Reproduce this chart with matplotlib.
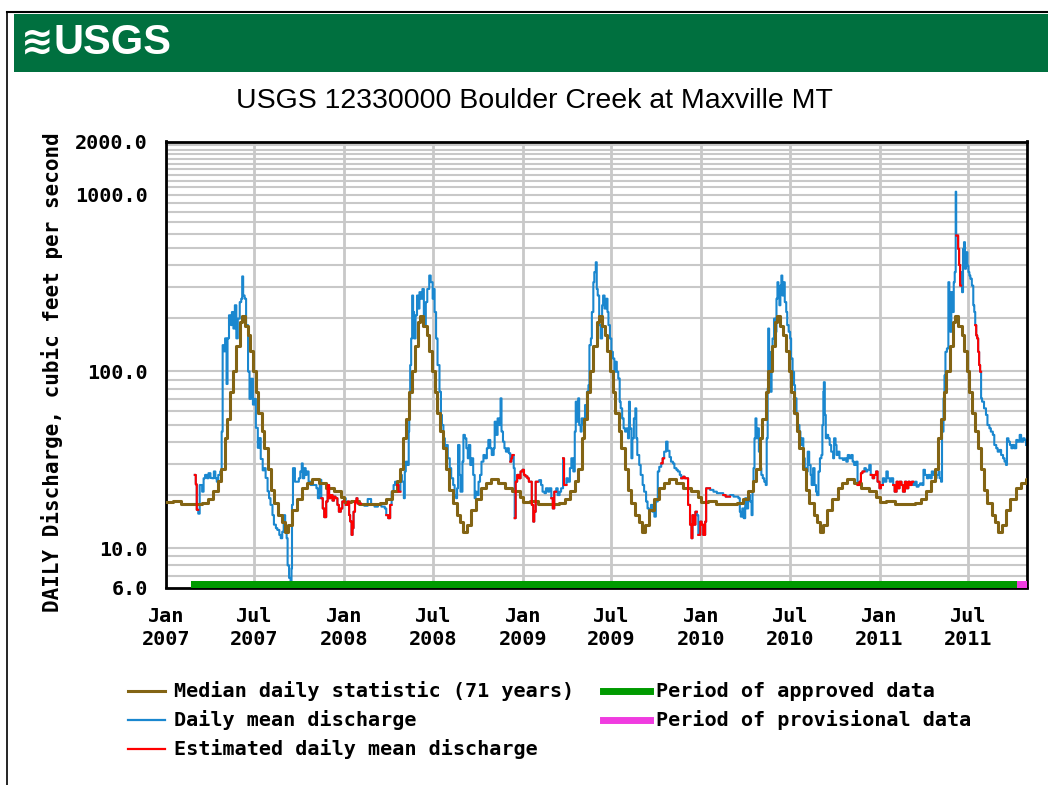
import matplotlib
matplotlib.use("Agg")
import matplotlib.pyplot as plt
import matplotlib.dates as mdates
import matplotlib.transforms as mtransforms
from matplotlib.lines import Line2D
from matplotlib.patches import Rectangle
import numpy as np
import pandas as pd

TITLE = "USGS 12330000 Boulder Creek at Maxville MT"
YLABEL = "DAILY Discharge, cubic feet per second"
LEGEND_LABELS = ["Median daily statistic (71 years)", "Daily mean discharge",
                 "Estimated daily mean discharge", "Period of approved data",
                 "Period of provisional data"]

# ---- daily mean discharge (cfs): (month-day, value) ----
q2007 = [("03-01", 26), ("03-03", 23), ("03-05", 16.5), ("03-08", 15.7), ("03-11", 22.8), ("03-16", 20.9),
         ("03-19", 24.9), ("03-22", 26), ("03-26", 24.9), ("03-29", 26.6), ("04-02", 25), ("04-05", 24.9),
         ("04-09", 27.2), ("04-12", 24.9), ("04-15", 23.8), ("04-18", 26), ("04-22", 27.2), ("04-25", 45.7),
         ("04-27", 141), ("04-30", 130), ("05-02", 154), ("05-05", 85), ("05-07", 154), ("05-10", 208),
         ("05-14", 183), ("05-16", 217), ("05-19", 175), ("05-22", 237), ("05-25", 154), ("05-28", 199),
         ("06-01", 247), ("06-04", 258), ("06-06", 345), ("06-08", 269), ("06-11", 258), ("06-14", 183),
         ("06-18", 100), ("06-21", 70), ("06-24", 91), ("06-28", 65), ("07-01", 70), ("07-04", 48),
         ("07-08", 37), ("07-11", 42), ("07-14", 32), ("07-18", 27.6), ("07-21", 28.4), ("07-24", 25),
         ("07-28", 21), ("07-31", 19.2), ("08-03", 17.6), ("08-07", 15.4), ("08-10", 13.6), ("08-14", 13),
         ("08-17", 12.7), ("08-21", 11.9), ("08-24", 11.4), ("08-27", 12.4), ("08-30", 15.4), ("09-02", 12.4),
         ("09-05", 11.4), ("09-07", 8.0), ("09-10", 6.8), ("09-13", 6.5), ("09-15", 7.7), ("09-16", 17.6),
         ("09-18", 28.4), ("09-22", 23.8), ("09-26", 23.8), ("09-30", 24.9), ("10-03", 27.2), ("10-06", 30.2),
         ("10-08", 24.9), ("10-11", 28.4), ("10-14", 26), ("10-16", 27.2), ("10-20", 23.8), ("10-24", 22.8),
         ("10-29", 22.8), ("11-05", 21.85), ("11-08", 19.2), ("11-12", 24.4), ("11-15", 19.2), ("11-18", 16.8),
         ("11-21", 15), ("11-25", 18.4), ("11-28", 22.8), ("12-01", 19.2), ("12-04", 20), ("12-08", 18.6),
         ("12-11", 19.6), ("12-14", 19.2), ("12-18", 17.6), ("12-21", 16.1), ("12-25", 16.8), ("12-28", 18.4)]

q2008 = [("01-01", 19.2), ("01-04", 17.6), ("01-08", 18.4), ("01-11", 15.4), ("01-13", 14.2), ("01-16", 11.9),
         ("01-18", 13), ("01-20", 16.1), ("01-23", 18.4), ("01-26", 19.2), ("01-28", 17.9), ("02-04", 17.6),
         ("02-11", 17.4), ("02-18", 19), ("02-25", 17.6), ("03-03", 17.2), ("03-10", 17.6), ("03-17", 17.2),
         ("03-24", 16.8), ("03-27", 15.4), ("03-31", 14.8), ("04-04", 17.6), ("04-07", 20.9), ("04-11", 22.8),
         ("04-14", 23.8), ("04-18", 22.8), ("04-21", 20.9), ("04-25", 26), ("04-28", 23.8), ("05-02", 19.2),
         ("05-04", 27.2), ("05-06", 30.9), ("05-09", 29.6), ("05-12", 45.7), ("05-13", 70.5), ("05-15", 108.7),
         ("05-17", 153.8), ("05-19", 269), ("05-21", 217), ("05-23", 153.8), ("05-26", 208), ("05-29", 269),
         ("05-31", 227), ("06-03", 281), ("06-06", 258), ("06-09", 293), ("06-12", 183), ("06-16", 247),
         ("06-19", 293), ("06-23", 349), ("06-26", 320), ("06-30", 258), ("07-02", 293), ("07-04", 217),
         ("07-07", 153.8), ("07-10", 108.7), ("07-14", 76.8), ("07-17", 56.8), ("07-19", 49.8), ("07-22", 41.9),
         ("07-25", 36.8), ("07-28", 38.4), ("07-31", 32.3), ("08-04", 28.4), ("08-07", 24.9), ("08-11", 22.8),
         ("08-14", 20), ("08-17", 19.2), ("08-19", 21.85), ("08-21", 38.4), ("08-24", 26), ("08-26", 20.9),
         ("08-30", 30.9), ("09-01", 43.8), ("09-04", 41.9), ("09-07", 36.8), ("09-10", 32.3), ("09-12", 38.4),
         ("09-15", 29.6), ("09-18", 32.3), ("09-21", 26), ("09-24", 19.2), ("09-26", 20.9), ("09-29", 20),
         ("10-02", 23.8), ("10-05", 26), ("10-08", 30.9), ("10-12", 33.7), ("10-15", 32.3), ("10-19", 36.8),
         ("10-22", 41), ("10-26", 36.8), ("10-29", 33.7), ("11-02", 36.8), ("11-04", 52), ("11-07", 43.8),
         ("11-10", 54.3), ("11-13", 49.8), ("11-16", 70.5), ("11-18", 45.7), ("11-21", 40.1), ("11-24", 36.8),
         ("11-27", 35.2), ("11-30", 36.8), ("12-03", 34.5), ("12-06", 30.9), ("12-08", 32.3), ("12-10", 33.7),
         ("12-13", 28.4), ("12-15", 14.8), ("12-17", 23.8), ("12-20", 26), ("12-24", 24.9), ("12-27", 27.2),
         ("12-31", 27.8)]

q2009 = [("01-03", 26), ("01-06", 25.5), ("01-10", 24.9), ("01-13", 23.8), ("01-17", 23.8), ("01-19", 17.6),
         ("01-22", 14.15), ("01-24", 16.1), ("01-27", 23.8), ("01-31", 23.8), ("02-03", 24.3), ("02-07", 22.8),
         ("02-10", 20.9), ("02-14", 20.5), ("02-17", 21.85), ("02-21", 20.9), ("02-24", 21.85), ("02-28", 19.2),
         ("03-03", 16.8), ("03-06", 20.9), ("03-10", 21.85), ("03-13", 20), ("03-17", 20.9), ("03-20", 21.85),
         ("03-24", 32.3), ("03-26", 22.8), ("03-31", 24.9), ("04-03", 23.8), ("04-07", 28.4), ("04-10", 32.3),
         ("04-14", 27.2), ("04-17", 45.7), ("04-19", 67.5), ("04-22", 52), ("04-24", 70.5), ("04-26", 49.8),
         ("04-29", 45.7), ("05-01", 54.3), ("05-05", 49.8), ("05-08", 64.6), ("05-12", 76.8), ("05-15", 83.7),
         ("05-17", 141), ("05-20", 153.8), ("05-22", 217), ("05-25", 320), ("05-27", 365), ("05-30", 415),
         ("06-01", 293), ("06-03", 269), ("06-06", 183), ("06-09", 153.8), ("06-12", 237), ("06-14", 269),
         ("06-17", 227), ("06-20", 258), ("06-23", 217), ("06-25", 183), ("06-28", 153.8), ("07-01", 129.2),
         ("07-04", 118.5), ("07-07", 99.6), ("07-09", 113.5), ("07-12", 99.6), ("07-15", 91.3), ("07-18", 67.5),
         ("07-20", 61.9), ("07-23", 54.3), ("07-26", 47.7), ("07-29", 45.7), ("08-01", 47.7), ("08-04", 41.9),
         ("08-06", 67.5), ("08-08", 47.7), ("08-11", 32.3), ("08-13", 41.9), ("08-16", 54.3), ("08-19", 61.9),
         ("08-21", 41.9), ("08-23", 33.7), ("08-27", 29.6), ("08-30", 26), ("09-03", 22.8), ("09-06", 20.9),
         ("09-10", 18.4), ("09-13", 16.8), ("09-16", 16.5), ("09-20", 17.6), ("09-23", 16.1), ("09-27", 15.1),
         ("09-30", 18.4), ("10-04", 27.2), ("10-07", 28.9), ("10-11", 30.2), ("10-14", 32.3), ("10-17", 35.2),
         ("10-21", 40.1), ("10-24", 35.6), ("10-28", 32.8), ("10-31", 30.9), ("11-04", 30.2), ("11-07", 28.4),
         ("11-11", 27.8), ("11-14", 27.2), ("11-18", 26), ("11-21", 24.9), ("11-25", 25.4), ("11-28", 24.9),
         ("12-02", 24.9), ("12-05", 17.6), ("12-09", 13.6), ("12-12", 11.4), ("12-14", 15.4), ("12-16", 13.6),
         ("12-20", 16.1), ("12-23", 15.4), ("12-26", 11.9), ("12-30", 14.15)]

q2010 = [("01-02", 13.6), ("01-05", 11.9), ("01-09", 14.15), ("01-11", 21.85), ("01-14", 21.85), ("01-19", 21.4),
         ("01-26", 20.9), ("02-02", 20.5), ("02-09", 20.5), ("02-15", 20), ("02-20", 19.6), ("02-24", 19.6),
         ("03-01", 20), ("03-08", 19.6), ("03-15", 19.6), ("03-18", 19.2), ("03-21", 16.1), ("03-23", 15.1),
         ("03-26", 16.8), ("03-29", 14.8), ("04-01", 19.2), ("04-04", 16.8), ("04-07", 20), ("04-11", 18.4),
         ("04-14", 15.4), ("04-16", 20.9), ("04-18", 28.4), ("04-20", 41.9), ("04-22", 54.3), ("04-24", 41.9),
         ("04-26", 47.7), ("04-29", 35.2), ("05-02", 28.4), ("05-04", 26), ("05-07", 24.9), ("05-10", 23.8),
         ("05-13", 22.8), ("05-15", 41.9), ("05-17", 80.2), ("05-18", 175), ("05-20", 129.2), ("05-22", 99.6),
         ("05-23", 76.8), ("05-25", 129.2), ("05-27", 153.8), ("05-30", 199), ("06-02", 167.7), ("06-04", 258),
         ("06-06", 320), ("06-08", 281), ("06-10", 237), ("06-12", 306), ("06-14", 349), ("06-16", 269),
         ("06-18", 320), ("06-21", 247), ("06-24", 217), ("06-26", 183), ("06-29", 167.7), ("07-02", 153.8),
         ("07-04", 118.5), ("07-07", 99.6), ("07-10", 83.7), ("07-12", 70.5), ("07-15", 56.8), ("07-18", 49.8),
         ("07-21", 45.7), ("07-23", 38.4), ("07-26", 41.9), ("07-29", 32.3), ("08-01", 28.4), ("08-04", 27.2),
         ("08-07", 35.2), ("08-10", 29.6), ("08-13", 26), ("08-15", 22.8), ("08-18", 28.4), ("08-21", 22.8),
         ("08-24", 20.9), ("08-26", 20), ("08-29", 27.2), ("09-01", 32.3), ("09-04", 33.7), ("09-06", 49.8),
         ("09-08", 76.8), ("09-09", 87), ("09-11", 56.8), ("09-13", 41.9), ("09-15", 43.8), ("09-18", 41.9),
         ("09-21", 38.4), ("09-24", 35.2), ("09-28", 32.3), ("09-30", 41.9), ("10-03", 38.4), ("10-05", 33.7),
         ("10-08", 35.2), ("10-11", 32.3), ("10-15", 32.3), ("10-18", 31.6), ("10-21", 32.3), ("10-25", 30.9),
         ("10-28", 33.7), ("10-31", 32.3), ("11-04", 33.7), ("11-07", 30.9), ("11-10", 29.6), ("11-14", 30.9),
         ("11-17", 22.8), ("11-21", 23.8), ("11-24", 26.6), ("11-27", 27.2), ("12-01", 28.4), ("12-04", 27.2),
         ("12-07", 27.8), ("12-11", 29.6), ("12-14", 26), ("12-18", 24.9), ("12-21", 26), ("12-25", 27.2),
         ("12-28", 23.8)]

q2011 = [("01-01", 21.85), ("01-04", 22.8), ("01-08", 24.9), ("01-11", 23.8), ("01-15", 27.2), ("01-18", 24.9),
         ("01-22", 23.8), ("01-25", 24.9), ("01-29", 22.8), ("02-01", 20.9), ("02-05", 23.8), ("02-08", 21.85),
         ("02-11", 23.8), ("02-15", 22.8), ("02-18", 20.9), ("02-22", 23.8), ("02-25", 21.85), ("03-01", 23.8),
         ("03-04", 22.8), ("03-08", 23.8), ("03-11", 22.8), ("03-15", 23.8), ("03-18", 22.3), ("03-22", 22.8),
         ("03-25", 23.3), ("03-29", 22.8), ("04-01", 27.8), ("04-04", 26), ("04-08", 24.9), ("04-11", 26),
         ("04-15", 24.9), ("04-18", 27.2), ("04-21", 26), ("04-25", 24.9), ("04-28", 26), ("05-02", 27.2),
         ("05-04", 24.9), ("05-07", 23.8), ("05-09", 45.7), ("05-12", 70.5), ("05-14", 95), ("05-16", 129.2),
         ("05-19", 135), ("05-22", 320), ("05-24", 281), ("05-26", 167.7), ("05-28", 281), ("05-30", 217),
         ("06-02", 320), ("06-04", 365), ("06-06", 1040), ("06-07", 588), ("06-08", 588), ("06-11", 494),
         ("06-13", 400), ("06-15", 306), ("06-17", 365), ("06-19", 281), ("06-21", 494), ("06-23", 539),
         ("06-25", 381), ("06-27", 473), ("06-30", 397), ("07-02", 365), ("07-04", 349), ("07-06", 335),
         ("07-09", 306), ("07-12", 237), ("07-14", 217), ("07-16", 183), ("07-18", 160), ("07-20", 153.8),
         ("07-22", 129.2), ("07-24", 108.7), ("07-26", 99.6), ("07-28", 70.5), ("07-30", 67.5), ("08-03", 61.9),
         ("08-07", 56.8), ("08-10", 49.8), ("08-14", 47.7), ("08-17", 45.7), ("08-21", 43.8), ("08-24", 38.4),
         ("08-28", 36.8), ("08-31", 35.2), ("09-04", 36), ("09-07", 33.7), ("09-11", 32.3), ("09-14", 30.9),
         ("09-17", 29.6), ("09-19", 41.9), ("09-22", 40.1), ("09-25", 38.4), ("09-28", 36.8), ("10-01", 38.4),
         ("10-04", 36.8), ("10-08", 41), ("10-11", 40.1), ("10-15", 43.8), ("10-18", 40.1), ("10-22", 41.9),
         ("10-25", 41), ("10-28", 38.4)]

discharge_by_year = {2007: q2007, 2008: q2008, 2009: q2009, 2010: q2010, 2011: q2011}

# ---- periods of estimated daily values ----
est_start = ["2007-03-01", "2007-11-14", "2008-01-03", "2008-03-25", "2008-04-17", "2008-12-05",
             "2008-12-14", "2009-02-27", "2009-03-23", "2009-10-10", "2009-11-20", "2009-12-25",
             "2010-02-14", "2010-11-16", "2010-12-13", "2011-01-28", "2011-02-14", "2011-03-03",
             "2011-06-07", "2011-07-15"]
est_end = ["2007-03-04", "2007-12-26", "2008-01-27", "2008-04-03", "2008-04-19", "2008-12-09",
           "2009-01-25", "2009-03-04", "2009-03-25", "2009-10-12", "2009-12-17", "2010-01-12",
           "2010-02-21", "2010-11-25", "2011-01-02", "2011-02-09", "2011-02-26", "2011-03-05",
           "2011-06-13", "2011-07-25"]

# ---- median daily statistic (71 years), one calendar year ----
median_md = ["01-01", "01-15", "02-01", "02-15", "03-01", "03-15", "03-27", "04-07", "04-17", "04-24",
             "05-01", "05-06", "05-13", "05-18", "05-25", "06-01", "06-05", "06-11", "06-18", "06-23",
             "06-29", "07-04", "07-09", "07-16", "07-21", "07-28", "08-03", "08-10", "08-19", "08-26",
             "09-01", "09-08", "09-16", "09-26", "10-07", "10-17", "10-27", "11-10", "11-25", "12-10", "12-25"]
median_q = [18.3, 18.5, 17.8, 17.8, 17.8, 18.0, 19, 21, 24, 28,
            42, 54, 77, 100, 140, 190, 205, 182, 160, 130,
            100, 77, 58, 46, 37, 28, 21.5, 18, 15.5, 14,
            12.3, 13.5, 16.5, 19, 22, 23.5, 24.5, 23.5, 22, 21, 19.5]
median_years = [2007, 2008, 2009, 2010, 2011]

approved_period = ("2007-02-21", "2011-10-10")
provisional_period = ("2011-10-10", "2011-10-30")
x_range = ("2007-01-01", "2011-10-30")

y_ticks = [6, 10, 100, 1000, 2000]
y_tick_labels = ["6.0", "10.0", "100.0", "1000.0", "2000.0"]
x_tick_dates = ["2007-01-01", "2007-07-01", "2008-01-01", "2008-07-01", "2009-01-01", "2009-07-01",
                "2010-01-01", "2010-07-01", "2011-01-01", "2011-07-01"]
x_tick_labels = ["Jan\n2007", "Jul\n2007", "Jan\n2008", "Jul\n2008", "Jan\n2009", "Jul\n2009",
                 "Jan\n2010", "Jul\n2010", "Jan\n2011", "Jul\n2011"]

# ---- colours / styles ----
C_BLUE = "#1a87cf"
C_BROWN = "#836414"
C_RED = "#ff0000"
C_GREEN = "#009a00"
C_PINK = "#f03ce0"
C_GRID = "#c8c8c8"
C_BANNER = "#00703f"
MONO = ["DejaVu Sans Mono"]
SANS = ["Liberation Sans", "DejaVu Sans"]

# ---- build series ----
dates, vals = [], []
for yr, pairs in discharge_by_year.items():
    for md, v in pairs:
        dates.append(f"{yr}-{md}")
        vals.append(v)
dates = pd.to_datetime(dates).to_numpy()
vals = np.array(vals, dtype=float)

est = np.zeros(len(dates), dtype=bool)
for s, e in zip(est_start, est_end):
    est |= (dates >= np.datetime64(s)) & (dates <= np.datetime64(e))
est_ext = est.copy()
est_ext[1:] |= est[:-1]
red_vals = np.where(est_ext, vals, np.nan)

med_dates, med_vals = [], []
for yr in median_years:
    for md, v in zip(median_md, median_q):
        med_dates.append(f"{yr}-{md}")
        med_vals.append(v)
med_dates = pd.to_datetime(med_dates).to_numpy()
med_vals = np.array(med_vals)

# ---- figure ----
W, H = 1048, 785
fig = plt.figure(figsize=(W / 100, H / 100), dpi=100)
fig.patch.set_facecolor("white")

def fx(px):
    return px / W

def fy(py):
    return 1 - py / H

# frame lines and banner
fig.add_artist(Line2D([fx(6.5), fx(6.5)], [fy(12), fy(785)], color="black", lw=1.2))
fig.add_artist(Line2D([fx(6.5), fx(1048)], [fy(12), fy(12)], color="black", lw=1.5))
fig.add_artist(Rectangle((fx(14), fy(72)), fx(1048 - 14), 58 / H, color=C_BANNER, lw=0))
fig.text(fx(21), fy(43), "\u224b", color="white", fontsize=28, fontweight="bold",
         family=["DejaVu Sans"], va="center", ha="left")
fig.text(fx(53), fy(43), "USGS", color="white", fontsize=30, fontweight="bold",
         family=SANS, va="center", ha="left")

fig.text(fx(534), fy(101), TITLE, fontsize=20.5, family=SANS, ha="center", va="center",
         color="black", fontweight="medium")

ax = fig.add_axes([fx(166), fy(587.5), fx(1027 - 166), (587.5 - 141.5) / H])
ax.set_yscale("log")
x0, x1 = pd.to_datetime(x_range[0]), pd.to_datetime(x_range[1])
ax.set_xlim(x0, x1)
ax.set_ylim(6, 2000)

grid_vals = ([7, 8, 9, 10] + list(range(20, 101, 10)) + list(range(200, 1001, 100))
             + list(range(1100, 2000, 100)))
for g in grid_vals:
    ax.axhline(g, color=C_GRID, lw=1.5, zorder=0)
for d in x_tick_dates:
    ax.axvline(pd.to_datetime(d), color=C_GRID, lw=2, zorder=0)

ax.plot(dates, vals, color=C_BLUE, lw=1.5, drawstyle="steps-post", zorder=2)
ax.plot(med_dates, med_vals, color=C_BROWN, lw=2.2, drawstyle="steps-post", zorder=3)
ax.plot(dates, red_vals, color=C_RED, lw=1.5, drawstyle="steps-post", zorder=4)

trans = mtransforms.blended_transform_factory(ax.transData, ax.transAxes)
bar_h = 7 / 446
a0, a1 = mdates.date2num(pd.to_datetime(approved_period[0])), mdates.date2num(pd.to_datetime(approved_period[1]))
p0, p1 = mdates.date2num(pd.to_datetime(provisional_period[0])), mdates.date2num(pd.to_datetime(provisional_period[1]))
ax.add_patch(Rectangle((a0, 0), a1 - a0, bar_h, transform=trans, color=C_GREEN, lw=0, zorder=5))
ax.add_patch(Rectangle((p0, 0), p1 - p0, bar_h, transform=trans, color=C_PINK, lw=0, zorder=5))

ax.set_yticks(y_ticks)
ax.set_yticklabels(y_tick_labels)
ax.yaxis.set_minor_locator(matplotlib.ticker.NullLocator())
ax.set_xticks([pd.to_datetime(d) for d in x_tick_dates])
ax.set_xticklabels(x_tick_labels, linespacing=1.25)
ax.tick_params(axis="both", length=0)
ax.tick_params(axis="y", pad=13)
ax.tick_params(axis="x", pad=14)
for lab in ax.get_yticklabels() + ax.get_xticklabels():
    lab.set_family(MONO)
    lab.set_fontweight("bold")
    lab.set_fontsize(14.5)
for sp in ax.spines.values():
    sp.set_color("black")
    sp.set_linewidth(2)

fig.text(fx(52), fy(372), YLABEL, rotation=90, ha="center", va="center",
         family=MONO, fontweight="bold", fontsize=15)

# ---- legend ----
rows = [691, 720, 749]
leg_items_left = [(C_BROWN, 2.2, LEGEND_LABELS[0]), (C_BLUE, 1.6, LEGEND_LABELS[1]), (C_RED, 1.6, LEGEND_LABELS[2])]
for (c, lw, lab), yy in zip(leg_items_left, rows):
    fig.add_artist(Line2D([fx(128), fx(165)], [fy(yy), fy(yy)], color=c, lw=lw))
    fig.text(fx(174), fy(yy), lab, family=MONO, fontweight="bold", fontsize=14.5, va="center", ha="left")
leg_items_right = [(C_GREEN, LEGEND_LABELS[3]), (C_PINK, LEGEND_LABELS[4])]
for (c, lab), yy in zip(leg_items_right, rows[:2]):
    fig.add_artist(Line2D([fx(603), fx(650)], [fy(yy), fy(yy)], color=c, lw=5))
    fig.text(fx(656), fy(yy), lab, family=MONO, fontweight="bold", fontsize=14.5, va="center", ha="left")

fig.savefig("out.png", dpi=100, facecolor="white")
